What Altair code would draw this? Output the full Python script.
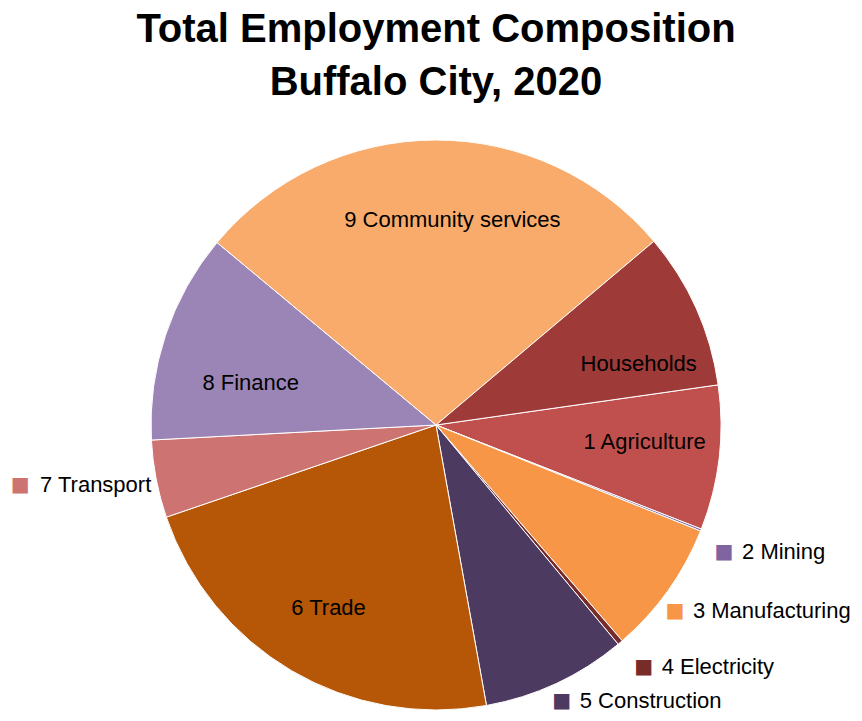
import altair as alt
import pandas as pd
import math

categories = ["1 Agriculture", "2 Mining", "3 Manufacturing", "4 Electricity",
              "5 Construction", "6 Trade", "7 Transport", "8 Finance",
              "9 Community services", "Households"]
shares = [8.2, 0.12, 7.6, 0.3, 8.2, 22.6, 4.4, 11.9, 27.8, 8.9]
colors = ["#C0504D", "#8064A2", "#F79646", "#772C2A", "#4D3A61",
          "#B65708", "#CD7371", "#9A85B6", "#F9AB6B", "#9E3A38"]

inside_labels = ["1 Agriculture", "6 Trade", "8 Finance", "9 Community services", "Households"]
right_labels = ["2 Mining", "3 Manufacturing", "4 Electricity", "5 Construction"]
left_labels = ["7 Transport"]

# label nudges (pixels) to mimic the spreadsheet's label placement
nudge = {
    "1 Agriculture": (0, -7), "Households": (11, 25), "9 Community services": (17, 5),
    "8 Finance": (14, 24), "6 Trade": (-1, 2), "2 Mining": (-2, 12),
    "3 Manufacturing": (-15, 5), "4 Electricity": (6, 4), "5 Construction": (-6, -7),
    "7 Transport": (0, 5),
}

df = pd.DataFrame({"category": categories, "share": shares, "idx": list(range(len(categories)))})

start = math.radians(81.9)
FONT = "Liberation Sans, Arial, sans-serif"
PADTOP = 132
CX, CY = 428, 425 - 8 - PADTOP
LABEL_SIZE = 22

theta = alt.Theta("share:Q", stack=True, scale=alt.Scale(range=[start, start + 2 * math.pi]))
color = alt.Color("category:N", scale=alt.Scale(domain=categories, range=colors), legend=None)
order = alt.Order("idx:Q")

base = alt.Chart(df).encode(theta=theta, order=order, x=alt.value(CX), y=alt.value(CY))

layers = [base.mark_arc(outerRadius=285, stroke="white", strokeWidth=1).encode(color=color)]

def one(name, txt, **kw):
    return base.transform_calculate(
        lab="datum.category == '" + name + "' ? '" + txt + "' : ''"
    ).mark_text(baseline="middle", **kw)

for name in inside_labels:
    dx, dy = nudge[name]
    layers.append(one(name, name, radius=210, dx=dx, dy=dy, font=FONT, fontSize=LABEL_SIZE,
                      color="black", align="center").encode(text="lab:N"))

for name in right_labels:
    dx, dy = nudge[name]
    layers.append(one(name, "■", radius=312, dx=dx, dy=dy, font="DejaVu Sans", fontSize=20,
                      align="center").encode(text="lab:N", color=color))
    layers.append(one(name, name, radius=312, dx=dx + 18, dy=dy, font=FONT, fontSize=LABEL_SIZE,
                      color="black", align="left").encode(text="lab:N"))

for name in left_labels:
    dx, dy = nudge[name]
    layers.append(one(name, name, radius=290, dx=dx, dy=dy, font=FONT, fontSize=LABEL_SIZE,
                      color="black", align="right").encode(text="lab:N"))
    layers.append(one(name, "■", radius=290, dx=dx - 131, dy=dy, font="DejaVu Sans", fontSize=20,
                      align="center").encode(text="lab:N", color=color))

chart = alt.layer(*layers).properties(
    width=846, height=721 - 16 - PADTOP,
    autosize=alt.AutoSizeParams(type="none"),
    padding={"left": 0, "top": PADTOP, "right": 0, "bottom": 0},
    title=alt.Title(text=["Total Employment Composition", "Buffalo City, 2020"],
                    font=FONT, fontSize=40, fontWeight="bold", lineHeight=53,
                    anchor="start", align="center", color="black", offset=10, dx=428, dy=18),
).configure_view(stroke=None)

chart.save("out.html", embed_options={"renderer": "svg", "actions": False})
